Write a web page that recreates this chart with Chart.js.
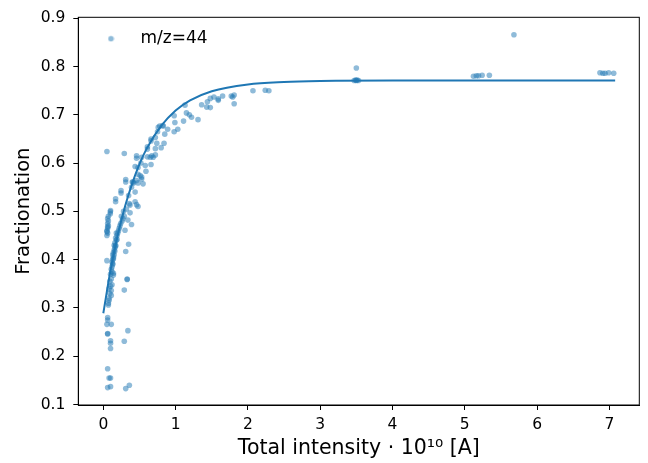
<!DOCTYPE html>
<html>
<head>
<meta charset="utf-8">
<script src="https://cdn.jsdelivr.net/npm/chart.js@4"></script>
<style>
  html, body { margin: 0; padding: 0; background: #fff; }
  #wrap { width: 648px; height: 463px; }
</style>
</head>
<body>
<div id="wrap"><canvas id="fracChart" width="648" height="463"></canvas></div>
<script>
// measured points (total intensity in 1e10 A, fractionation)
const intensity = [
  0.06, 0.10, 0.08, 0.10, 0.06, 0.31, 0.36, 0.10, 0.10, 0.10, 0.29, 0.06, 0.06, 0.34, 0.05, 0.11, 0.06, 0.06,
  0.07, 0.08, 0.11, 0.11, 0.29, 0.12, 0.33, 0.14, 0.14, 0.05, 0.31, 0.35,
  0.07, 0.08, 0.09, 0.08, 0.10, 0.09, 0.11, 0.10, 0.12, 0.11, 0.12, 0.13, 0.12, 0.13, 0.14, 0.13, 0.15, 0.14,
  0.15, 0.16, 0.15, 0.17, 0.16, 0.18, 0.17, 0.19, 0.18, 0.20, 0.21, 0.22, 0.23, 0.24, 0.26, 0.27, 0.25, 0.29,
  0.28, 0.32, 0.13, 0.14, 0.16, 0.17, 0.19,
  0.05, 0.06, 0.05, 0.06, 0.07, 0.06, 0.07, 0.06, 0.07, 0.06, 0.05,
  0.097, 0.097, 0.10, 0.17, 0.17, 0.245, 0.245, 0.31, 0.31,
  0.35, 0.39, 0.46, 0.51, 0.40, 0.44, 0.36, 0.44, 0.48, 0.37, 0.34, 0.39, 0.30, 0.33, 0.53, 0.55, 0.46, 0.37,
  0.05, 0.29, 0.46, 0.46, 0.53, 0.48, 0.58, 0.53, 0.48, 0.42, 0.59, 0.66, 0.67, 0.69, 0.61, 0.66, 0.66, 0.72,
  0.74, 0.80, 0.84, 0.75, 0.76, 0.83, 0.85, 0.89, 0.99, 0.98, 1.03, 0.98, 1.11, 1.13, 1.15, 1.19, 1.22, 1.31,
  1.36, 1.43, 1.48, 1.44, 1.48, 1.53, 1.59, 1.59, 1.65, 1.77, 1.79, 1.81, 1.81, 0.72, 0.65, 0.72, 0.61, 0.44,
  0.52, 0.61, 0.41, 0.48, 0.78, 0.82,
  2.07, 2.24, 2.29, 3.50, 3.47, 3.49, 3.50, 3.51, 3.53, 5.12, 5.16, 5.19, 5.24, 5.34, 5.68,
  6.87, 6.91, 6.94, 6.99, 7.06
];
const fraction = [
  0.135, 0.137, 0.155, 0.155, 0.174, 0.133, 0.140, 0.216, 0.227, 0.232, 0.231, 0.246, 0.247, 0.253, 0.266, 0.266, 0.275, 0.280,
  0.306, 0.316, 0.326, 0.336, 0.337, 0.348, 0.359, 0.368, 0.372, 0.398, 0.417, 0.432,
  0.310, 0.320, 0.330, 0.340, 0.345, 0.355, 0.360, 0.370, 0.375, 0.380, 0.385, 0.390, 0.395, 0.400, 0.405, 0.410, 0.410, 0.415,
  0.420, 0.425, 0.430, 0.430, 0.435, 0.440, 0.445, 0.450, 0.455, 0.455, 0.460, 0.465, 0.470, 0.475, 0.480, 0.485, 0.490, 0.490,
  0.500, 0.505, 0.392, 0.402, 0.418, 0.428, 0.442,
  0.450, 0.455, 0.460, 0.465, 0.470, 0.475, 0.480, 0.485, 0.490, 0.468, 0.458,
  0.499, 0.495, 0.502, 0.526, 0.520, 0.543, 0.538, 0.566, 0.561,
  0.533, 0.550, 0.564, 0.574, 0.561, 0.540, 0.516, 0.520, 0.510, 0.497, 0.482, 0.473, 0.461, 0.360, 0.567, 0.557, 0.514, 0.513,
  0.624, 0.620, 0.610, 0.615, 0.612, 0.591, 0.595, 0.571, 0.577, 0.559, 0.583, 0.597, 0.615, 0.612, 0.634, 0.646, 0.650, 0.653,
  0.641, 0.632, 0.641, 0.665, 0.674, 0.677, 0.660, 0.670, 0.684, 0.665, 0.670, 0.698, 0.687, 0.720, 0.704, 0.700, 0.695, 0.690,
  0.721, 0.716, 0.715, 0.727, 0.734, 0.737, 0.730, 0.733, 0.739, 0.739, 0.737, 0.741, 0.723, 0.630, 0.612, 0.617, 0.629, 0.593,
  0.600, 0.613, 0.561, 0.559, 0.677, 0.678,
  0.750, 0.751, 0.750, 0.797, 0.771, 0.772, 0.771, 0.772, 0.771, 0.780, 0.781, 0.781, 0.782, 0.782, 0.866,
  0.787, 0.786, 0.786, 0.787, 0.786
];

// fitted saturation curve
const fitX = [0, 0.1, 0.2, 0.3, 0.4, 0.5, 0.6, 0.8, 1.0, 1.2, 1.5, 2.0, 2.5, 3.0, 4.0, 5.0, 6.0, 7.08];
const fitY = [0.289, 0.378, 0.451, 0.510, 0.558, 0.598, 0.630, 0.677, 0.709, 0.730, 0.749, 0.763, 0.768, 0.770, 0.771, 0.771, 0.771, 0.771];

const xTicks = [0, 1, 2, 3, 4, 5, 6, 7];
const yTicks = [0.1, 0.2, 0.3, 0.4, 0.5, 0.6, 0.7, 0.8, 0.9];

const seriesLabel = 'm/z=44';
const blue = '#1f77b4';
const blueAlpha = 'rgba(31, 119, 180, 0.5)';
const fontFamily = '"DejaVu Sans", sans-serif';

// small dot used as legend marker
const legendDot = document.createElement('canvas');
legendDot.width = 7;
legendDot.height = 7;
const dctx = legendDot.getContext('2d');
dctx.fillStyle = blueAlpha;
dctx.beginPath();
dctx.arc(3.5, 3.5, 2.8, 0, Math.PI * 2);
dctx.fill();

// box around the plot area (top and right spines)
const frame = {
    id: 'frame',
    afterDatasetsDraw(chart) {
        const a = chart.chartArea;
        const ctx = chart.ctx;
        ctx.save();
        ctx.strokeStyle = '#000';
        ctx.lineWidth = 1;
        ctx.strokeRect(a.left, a.top, a.right - a.left, a.bottom - a.top);
        ctx.restore();
    }
};

createScatter();

function createScatter() {
    const ctx = document.getElementById('fracChart');

    new Chart(ctx, {
        data: {
            datasets: [{
                type: 'scatter',
                label: seriesLabel,
                data: intensity.map((x, i) => ({ x: x, y: fraction[i] })),
                backgroundColor: blueAlpha,
                borderWidth: 0,
                pointRadius: 2.8,
                pointHoverRadius: 2.8
            }, {
                type: 'line',
                label: 'fit',
                data: fitX.map((x, i) => ({ x: x, y: fitY[i] })),
                borderColor: blue,
                borderWidth: 2,
                pointRadius: 0,
                fill: false,
                cubicInterpolationMode: 'monotone'
            }]
        },
        options: {
            responsive: false,
            animation: false,
            layout: {
                padding: { top: 14, right: 8.7, left: 0, bottom: 0 }
            },
            plugins: {
                tooltip: { enabled: false },
                legend: {
                    position: 'chartArea',
                    align: 'start',
                    // empty title only pushes the entry down
                    title: {
                        display: true,
                        text: ' ',
                        font: { size: 10 },
                        padding: { top: 6.5, bottom: 0 }
                    },
                    labels: {
                        usePointStyle: true,
                        pointStyle: legendDot,
                        pointStyleWidth: 42,
                        padding: 11.7,
                        color: '#000',
                        font: { family: fontFamily, size: 17 },
                        filter: item => item.datasetIndex === 0
                    }
                }
            },
            scales: {
                x: {
                    type: 'linear',
                    min: -0.346,
                    max: 7.414,
                    afterFit: scale => { scale.height = 58; },
                    afterBuildTicks: scale => { scale.ticks = xTicks.map(v => ({ value: v })); },
                    grid: { drawOnChartArea: false, drawTicks: true, tickLength: 5, tickColor: '#000' },
                    border: { display: true, color: '#000', width: 1 },
                    ticks: {
                        color: '#000',
                        padding: 6,
                        font: { family: fontFamily, size: 15.5 },
                        callback: v => String(v)
                    },
                    title: {
                        display: true,
                        text: 'Total intensity · 10¹⁰ [A]',
                        color: '#000',
                        font: { family: fontFamily, size: 20.5 },
                        padding: { top: 0, bottom: 1.8 }
                    }
                },
                y: {
                    type: 'linear',
                    min: 0.099,
                    max: 0.902,
                    afterFit: scale => { scale.width = 78.3; },
                    afterBuildTicks: scale => { scale.ticks = yTicks.map(v => ({ value: v })); },
                    grid: { drawOnChartArea: false, drawTicks: true, tickLength: 5, tickColor: '#000' },
                    border: { display: true, color: '#000', width: 1 },
                    ticks: {
                        color: '#000',
                        padding: 8,
                        font: { family: fontFamily, size: 15.5 },
                        callback: v => v.toFixed(1)
                    },
                    title: {
                        display: true,
                        text: 'Fractionation',
                        color: '#000',
                        font: { family: fontFamily, size: 19.5 },
                        padding: { top: 11.8, bottom: 0 }
                    }
                }
            }
        },
        plugins: [frame]
    });
}
</script>
</body>
</html>
